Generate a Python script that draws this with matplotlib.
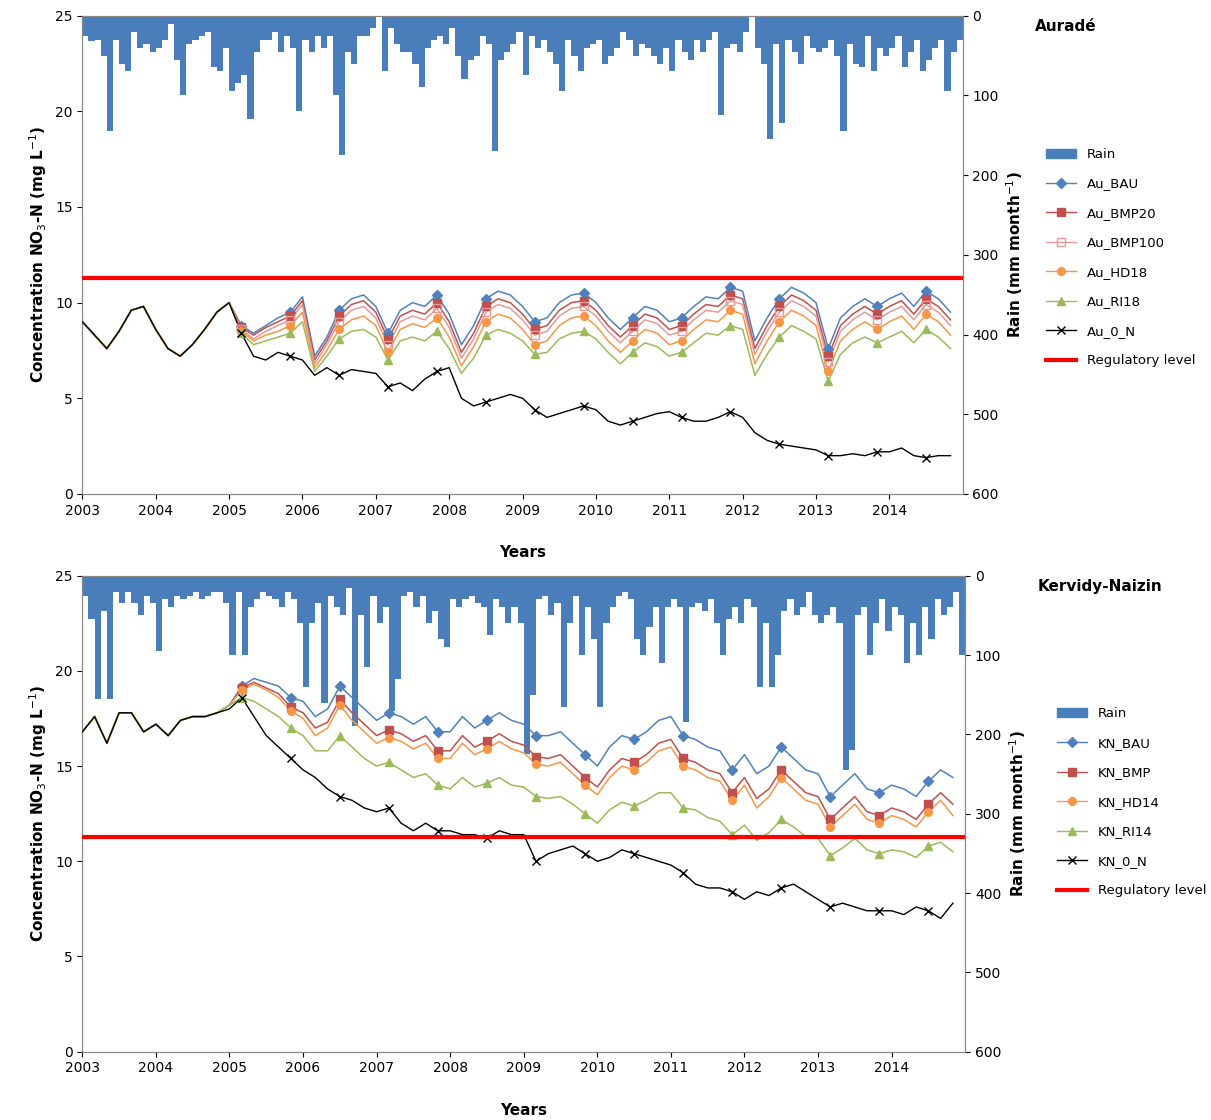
import numpy as np
import matplotlib
matplotlib.use('Agg')
import matplotlib.pyplot as plt
from matplotlib.lines import Line2D
from matplotlib.patches import Patch

years=list(range(2003,2015))

# monthly rain (mm), 2003-2014
rain_au=[25,32,30,50,145,30,60,70,20,40,35,45,
	40,30,10,55,100,35,30,25,20,65,70,40,
	95,85,75,130,45,30,30,20,45,25,40,120,
	30,45,25,40,25,100,175,45,60,25,25,15,
	0,70,15,35,45,45,60,90,40,30,25,35,
	15,50,80,55,50,25,35,170,55,45,35,20,
	75,25,40,30,45,60,95,30,50,70,40,35,
	30,60,50,40,20,30,50,35,40,50,60,40,
	70,30,45,55,30,45,30,20,125,40,35,45,
	20,0,40,60,155,35,135,30,45,60,25,40,
	45,40,30,50,145,35,60,65,25,70,40,50,
	40,25,65,45,30,70,55,40,30,95,45,30]
rain_kn=[25,55,155,45,155,20,35,20,35,50,25,35,
	95,30,40,25,30,25,20,30,25,20,20,35,
	100,20,100,40,30,20,25,30,40,20,30,60,
	140,60,35,160,25,40,50,15,190,50,115,25,
	60,40,170,130,25,20,40,25,60,45,80,90,
	30,40,30,25,35,40,75,30,40,60,40,60,
	225,150,30,25,50,35,165,60,25,100,40,80,
	165,60,40,25,20,30,80,100,65,40,110,40,
	30,40,185,40,35,45,30,60,100,55,40,60,
	30,40,140,60,140,100,45,30,50,40,20,50,
	60,50,40,60,245,220,50,40,100,60,30,70,
	40,50,110,60,100,40,80,30,50,40,20,100]

# concentrations, 2-month steps
t_common=[2003+i/6 for i in range(12)]
t_scen=[2005+i/6 for i in range(60)]

au_common=[9.0,8.3,7.6,8.5,9.6,9.8,8.6,7.6,7.2,7.8,8.6,9.5]
au_bau=[10.0,8.8,8.4,8.8,9.2,9.5, 10.3,7.2,8.2,9.6,10.2,10.4, 9.8,8.4,9.6,10.0,9.8,10.4,
	9.4,7.8,8.8,10.2,10.6,10.4, 9.8,9.0,9.2,10.0,10.4,10.5, 10.0,9.2,8.6,9.2,9.8,9.6,
	9.0,9.2,9.8,10.3,10.2,10.8, 10.6,8.0,9.2,10.2,10.8,10.5, 10.0,7.6,9.2,9.8,10.2,9.8,
	10.2,10.5,9.8,10.6,10.2,9.5]
au_bmp20=[10.0,8.7,8.3,8.7,9.0,9.3, 10.1,7.0,8.0,9.3,9.9,10.1, 9.5,8.1,9.3,9.6,9.4,10.0,
	9.0,7.4,8.4,9.8,10.2,10.0, 9.4,8.6,8.8,9.6,10.0,10.1, 9.6,8.8,8.2,8.8,9.4,9.2,
	8.6,8.8,9.4,9.9,9.8,10.4, 10.2,7.6,8.8,9.8,10.4,10.1, 9.6,7.2,8.8,9.4,9.8,9.4,
	9.8,10.1,9.4,10.2,9.8,9.1]
au_bmp100=[10.0,8.6,8.1,8.5,8.8,9.1, 9.9,6.8,7.8,9.0,9.6,9.8, 9.2,7.8,9.0,9.3,9.1,9.7,
	8.7,7.1,8.1,9.5,9.9,9.7, 9.1,8.3,8.5,9.3,9.7,9.8, 9.3,8.5,7.9,8.5,9.1,8.9,
	8.3,8.5,9.1,9.6,9.5,10.1, 9.9,7.3,8.5,9.5,10.1,9.8, 9.3,6.9,8.5,9.1,9.5,9.1,
	9.5,9.8,9.1,9.9,9.5,8.8]
au_hd18=[10.0,8.5,8.0,8.3,8.5,8.8, 9.5,6.6,7.5,8.6,9.1,9.3, 8.8,7.4,8.6,8.9,8.7,9.2,
	8.2,6.7,7.7,9.0,9.4,9.2, 8.6,7.8,8.0,8.8,9.2,9.3, 8.8,8.0,7.4,8.0,8.6,8.4,
	7.8,8.0,8.6,9.1,9.0,9.6, 9.4,6.8,8.0,9.0,9.6,9.3, 8.8,6.4,8.0,8.6,9.0,8.6,
	9.0,9.3,8.6,9.4,9.0,8.3]
au_ri18=[10.0,8.4,7.8,8.0,8.2,8.4, 9.0,6.4,7.2,8.1,8.5,8.6, 8.2,7.0,8.0,8.2,8.0,8.5,
	7.6,6.3,7.1,8.3,8.6,8.4, 8.0,7.3,7.4,8.1,8.4,8.5, 8.1,7.4,6.8,7.4,7.9,7.7,
	7.2,7.4,7.9,8.4,8.3,8.8, 8.6,6.2,7.3,8.2,8.8,8.5, 8.1,5.9,7.3,7.9,8.2,7.9,
	8.2,8.5,7.9,8.6,8.2,7.6]
au_0n=[10.0,8.4,7.2,7.0,7.4,7.2, 7.0,6.2,6.6,6.2,6.5,6.4, 6.3,5.6,5.8,5.4,6.0,6.4,
	6.6,5.0,4.6,4.8,5.0,5.2, 5.0,4.4,4.0,4.2,4.4,4.6, 4.4,3.8,3.6,3.8,4.0,4.2,
	4.3,4.0,3.8,3.8,4.0,4.3, 4.0,3.2,2.8,2.6,2.5,2.4, 2.3,2.0,2.0,2.1,2.0,2.2,
	2.2,2.4,2.0,1.9,2.0,2.0]

kn_common=[16.8,17.6,16.2,17.8,17.8,16.8,17.2,16.6,17.4,17.6,17.6,17.8]
kn_bau=[18.2,19.2,19.6,19.4,19.2,18.6, 18.4,17.6,18.0,19.2,18.6,18.0, 17.4,17.8,17.6,17.2,17.6,16.8,
	16.8,17.6,17.0,17.4,17.8,17.4, 17.2,16.6,16.6,16.8,16.2,15.6, 15.0,16.0,16.6,16.4,16.8,17.4,
	17.6,16.6,16.4,16.0,15.8,14.8, 15.6,14.6,15.0,16.0,15.4,14.8, 14.6,13.4,14.0,14.6,13.8,13.6,
	14.0,13.8,13.4,14.2,14.8,14.4]
kn_bmp=[18.2,19.1,19.4,19.1,18.8,18.1, 17.8,17.0,17.3,18.5,17.8,17.2, 16.6,16.9,16.7,16.3,16.6,15.8,
	15.8,16.6,16.0,16.3,16.7,16.3, 16.1,15.5,15.4,15.6,15.0,14.4, 13.9,14.8,15.4,15.2,15.6,16.2,
	16.4,15.4,15.2,14.8,14.6,13.6, 14.4,13.3,13.8,14.8,14.2,13.6, 13.4,12.2,12.8,13.4,12.6,12.4,
	12.8,12.6,12.2,13.0,13.6,13.0]
kn_hd14=[18.2,19.0,19.3,19.0,18.6,17.9, 17.5,16.6,17.0,18.2,17.4,16.8, 16.2,16.5,16.3,15.9,16.2,15.4,
	15.4,16.2,15.6,15.9,16.3,15.9, 15.7,15.1,15.0,15.2,14.6,14.0, 13.5,14.4,15.0,14.8,15.2,15.8,
	16.0,15.0,14.8,14.4,14.2,13.2, 14.0,12.8,13.4,14.4,13.8,13.2, 13.0,11.8,12.4,13.0,12.2,12.0,
	12.4,12.2,11.8,12.6,13.2,12.4]
kn_ri14=[18.2,18.6,18.4,18.0,17.6,17.0, 16.6,15.8,15.8,16.6,16.0,15.4, 15.0,15.2,14.8,14.4,14.6,14.0,
	13.8,14.4,13.9,14.1,14.4,14.0, 13.9,13.4,13.3,13.4,13.0,12.5, 12.0,12.7,13.1,12.9,13.2,13.6,
	13.6,12.8,12.7,12.3,12.1,11.4, 11.9,11.1,11.5,12.2,11.8,11.3, 11.2,10.3,10.7,11.2,10.6,10.4,
	10.6,10.5,10.2,10.8,11.0,10.5]
kn_0n=[18.0,18.6,17.6,16.6,16.0,15.4, 14.8,14.4,13.8,13.4,13.2,12.8, 12.6,12.8,12.0,11.6,12.0,11.6,
	11.6,11.4,11.4,11.2,11.6,11.4, 11.4,10.0,10.4,10.6,10.8,10.4, 10.0,10.2,10.6,10.4,10.2,10.0,
	9.8,9.4,8.8,8.6,8.6,8.4, 8.0,8.4,8.2,8.6,8.8,8.4, 8.0,7.6,7.8,7.6,7.4,7.4,
	7.4,7.2,7.6,7.4,7.0,7.8]

reg_level=11.3

blue='#4F81BD'; red='#C0504D'; pink='#E39A99'; orange='#F79646'; green='#9BBB59'
styles=[(blue,'D','full'),(red,'s','full'),(pink,'s','none'),(orange,'o','full'),(green,'^','full'),('black','x','full')]

def panel(rect,rain,common,scen,names,site,legx):
	ax=fig.add_axes(rect)
	ax2=ax.twinx()
	t_rain=[2003+i/12 for i in range(len(rain))]
	ax2.bar(t_rain,rain,width=1/12,align='edge',color='#4A7EBB',zorder=1)
	ax2.set_ylim(600,0)
	ax2.set_ylabel('Rain (mm month$^{-1}$)',fontsize=11,fontweight='bold')
	handles=[Patch(color='#4A7EBB',label='Rain')]
	for i,(s,nm) in enumerate(zip(scen,names)):
		c,m,fill=styles[i if len(scen)==6 else [0,1,3,4,5][i]]
		ax.plot(t_common+t_scen,common+s,color=c,lw=1.1 if c!='black' else 1.0,zorder=3)
		ax.plot(t_scen,s,ls='none',marker=m,color=c,fillstyle=fill,ms=5.5,markevery=(1,4),zorder=4)
		handles.append(Line2D([],[],color=c,marker=m,fillstyle=fill,ms=5.5,lw=1,label=nm))
	ax.axhline(reg_level,color='#FF0000',lw=3,zorder=5)
	handles.append(Line2D([],[],color='#FF0000',lw=3,label='Regulatory level'))
	ax.set_zorder(ax2.get_zorder()+1); ax.patch.set_visible(False)
	ax.set_xlim(2003,2015); ax.set_ylim(0,25)
	ax.set_xticks(years); ax.set_yticks([0,5,10,15,20,25])
	ax.set_ylabel('Concentration NO$_3$-N (mg L$^{-1}$)',fontsize=11,fontweight='bold')
	ax.set_xlabel('Years',fontsize=11,fontweight='bold',labelpad=20)
	for a in (ax,ax2):
		for sp in a.spines.values(): sp.set_color('#888888')
		a.tick_params(colors='black',labelsize=10)
	fig.text(rect[0]+rect[2]+0.06,rect[1]+rect[3]-0.003,site,fontsize=11,fontweight='bold',va='top')
	fig.legend(handles=handles,loc='upper left',bbox_to_anchor=(legx,rect[1]+rect[3]*0.74),
		frameon=False,fontsize=9.5,labelspacing=1.25,handlelength=2.3,borderaxespad=0.2)

fig=plt.figure(figsize=(12.11,11.2),dpi=100)
panel([0.068,0.559,0.727,0.427],rain_au,au_common,[au_bau,au_bmp20,au_bmp100,au_hd18,au_ri18,au_0n],
	['Au_BAU','Au_BMP20','Au_BMP100','Au_HD18','Au_RI18','Au_0_N'],'Auradé',0.857)
panel([0.068,0.061,0.729,0.425],rain_kn,kn_common,[kn_bau,kn_bmp,kn_hd14,kn_ri14,kn_0n],
	['KN_BAU','KN_BMP','KN_HD14','KN_RI14','KN_0_N'],'Kervidy-Naizin',0.866)
plt.savefig('out.png')
